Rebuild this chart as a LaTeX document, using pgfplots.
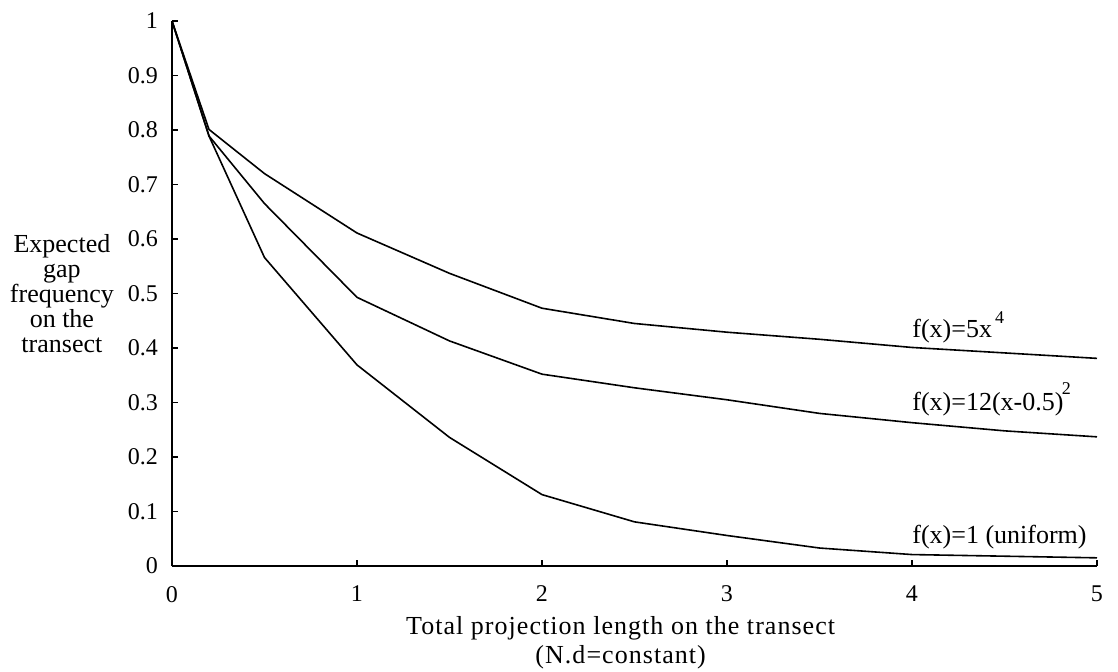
\documentclass[border=0pt]{standalone}
\usepackage{fontspec}
\setmainfont{Liberation Serif}
\usepackage{pgfplots}
\pgfplotsset{compat=1.18}

% Expected gap frequency for three distributions f(x)
\pgfplotstableread{
x     y
0     1.000
0.2   0.801
0.5   0.720
1     0.611
1.5   0.537
2     0.473
2.5   0.445
3     0.429
3.5   0.416
4     0.401
4.5   0.391
5     0.381
}\fourth

\pgfplotstableread{
x     y
0     1.000
0.2   0.789
0.5   0.665
1     0.493
1.5   0.413
2     0.352
2.5   0.327
3     0.305
3.5   0.280
4     0.263
4.5   0.248
5     0.237
}\quadratic

\pgfplotstableread{
x     y
0     1.000
0.2   0.789
0.5   0.566
1     0.369
1.5   0.236
2     0.131
2.5   0.081
3     0.056
3.5   0.033
4     0.021
4.5   0.018
5     0.015
}\uniform

\begin{document}
\begin{tikzpicture}[font=\fontsize{12}{12.5}\selectfont]
\begin{axis}[
  scale only axis,
  width=462.5pt, height=272.5pt,
  xmin=0, xmax=5, ymin=0, ymax=1,
  axis lines=left,
  axis line style={-, line width=0.7pt},
  tick align=inside,
  major tick length=3pt,
  tick style={black, line width=0.6pt},
  xtick={0,1,2,3,4,5},
  ytick={0,0.1,0.2,0.3,0.4,0.5,0.6,0.7,0.8,0.9,1},
  yticklabels={0,0.1,0.2,0.3,0.4,0.5,0.6,0.7,0.8,0.9,1},
  /pgf/number format/assume math mode=true,
  xticklabel style={yshift=-6.5pt},
  yticklabel style={xshift=-3.5pt},
  clip=false,
]
\addplot[black, line width=0.8pt] table[x=x, y=y] {\fourth};
\addplot[black, line width=0.8pt] table[x=x, y=y] {\quadratic};
\addplot[black, line width=0.8pt] table[x=x, y=y] {\uniform};

% curve labels
\begin{scope}[every node/.style={anchor=base west, inner sep=0pt,
    font=\fontsize{13}{13}\selectfont}]
\node at (axis cs:4.0,0.420)
  {f(x)=5x\kern1.5pt\raisebox{7pt}{\fontsize{9}{9}\selectfont 4}};
\node at (axis cs:4.0,0.286)
  {f(x)=12(x-0.5)\kern-0.8pt\raisebox{8pt}{\fontsize{9}{9}\selectfont 2}};
\node at (axis cs:4.0,0.042)
  {f(x)=1 (uniform)};
\end{scope}

\node[align=center, inner sep=0pt, font=\fontsize{13}{12.5}\selectfont]
  at (rel axis cs:-0.119,0.5)
  {Expected\\gap\\frequency\\on the\\transect};

\begin{scope}[every node/.style={anchor=base, inner sep=0pt,
    font=\fontsize{13}{13}\selectfont\addfontfeature{LetterSpace=4}}]
\node at (rel axis cs:0.485,0) [yshift=-34pt]
  {Total projection length on the transect};
\node at (rel axis cs:0.485,0) [yshift=-48.5pt]
  {(N.d=constant)};
\end{scope}

\coordinate (O) at (rel axis cs:0,0);
\end{axis}
\pgfresetboundingbox
\path (O) ++(-86pt,-52.5pt) rectangle ++(559pt,335.5pt);
\end{tikzpicture}
\end{document}
